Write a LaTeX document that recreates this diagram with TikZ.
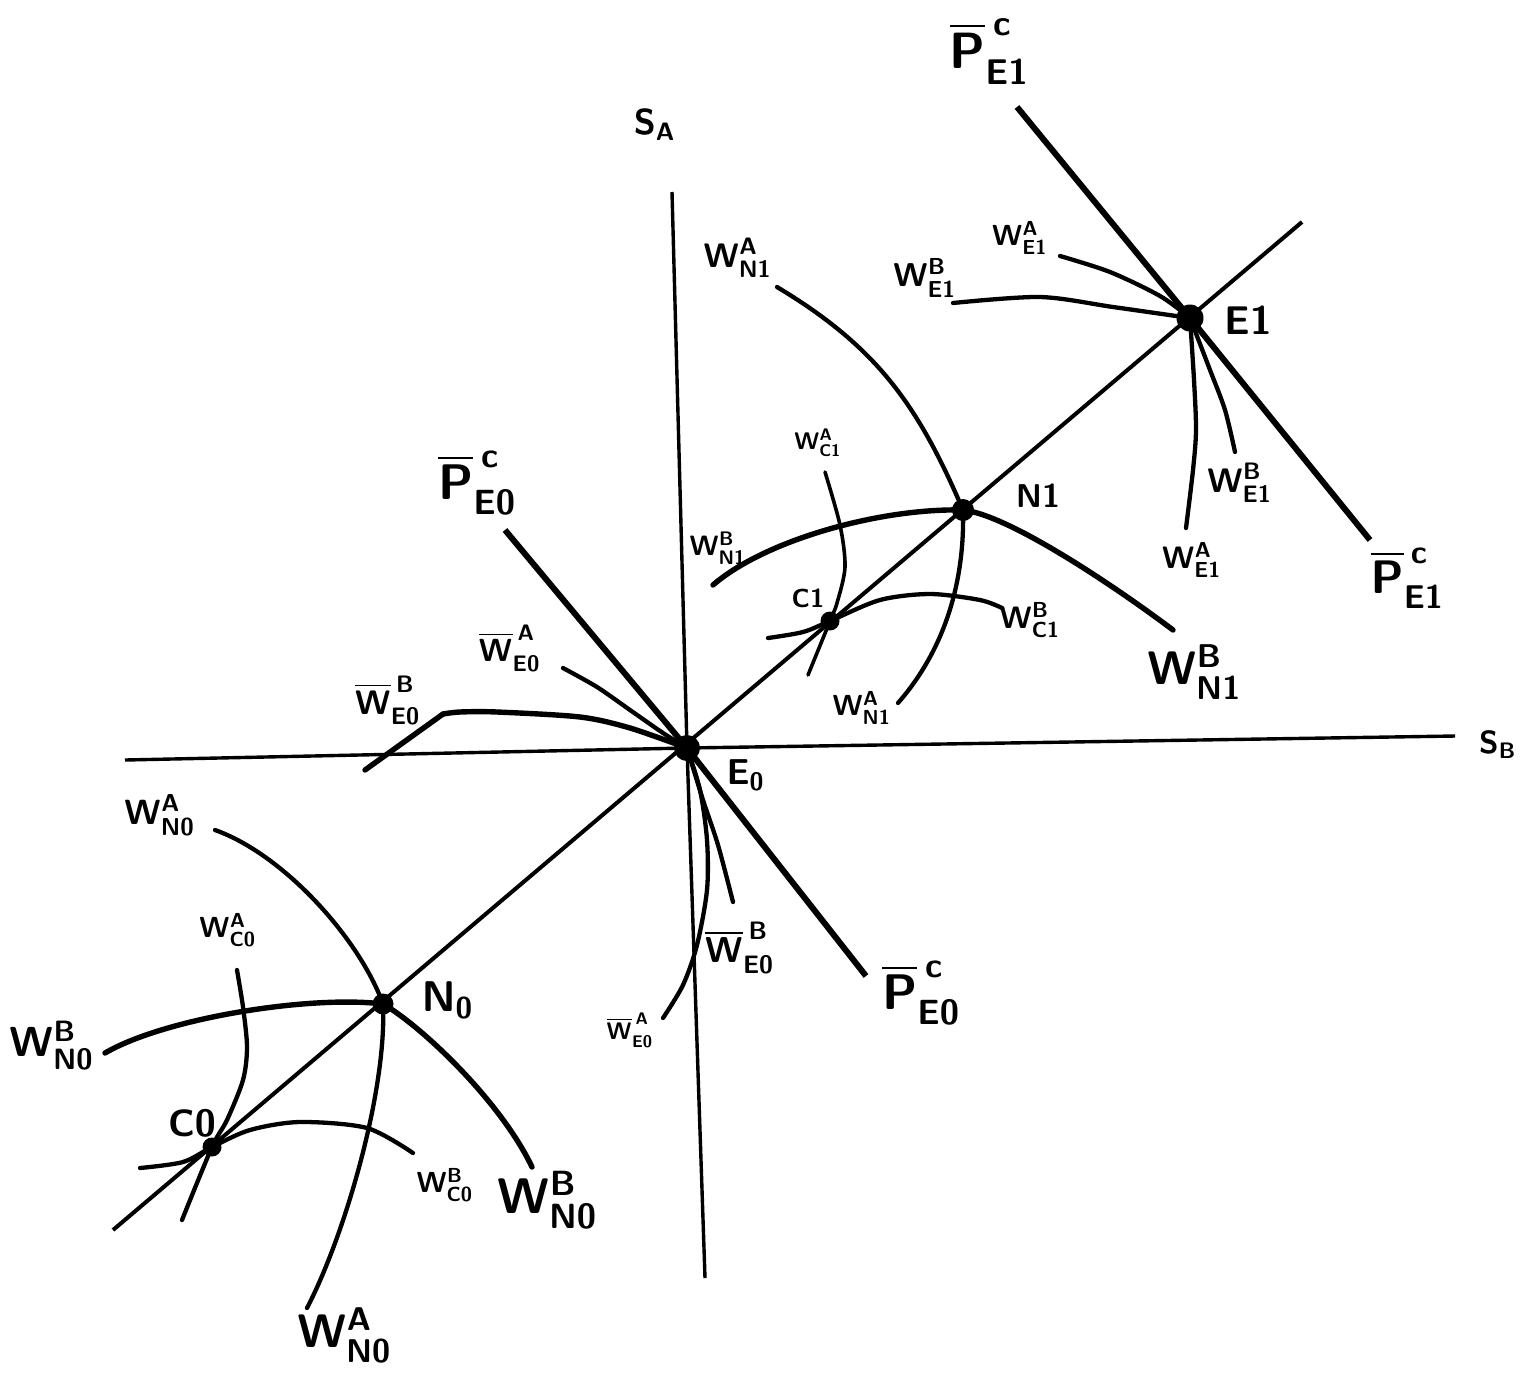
\documentclass[tikz,border=0pt]{standalone}
\newcommand\hwl[3]{$\mathsf{#1}^{\mathsf{#2}}_{\mathsf{#3}}$}
\newcommand\hwb[3]{$\overline{\mathsf{#1}}^{\,\mathsf{#2}}_{\mathsf{#3}}$}
\begin{document}
\begin{tikzpicture}[x=1pt,y=-1pt,
  axis/.style={line width=3.4pt},
  diag/.style={line width=4pt},
  pline/.style={line width=6pt},
  curve/.style={line width=4.3pt, line cap=round, line join=round},
  thickcurve/.style={line width=5.4pt, line cap=round, line join=round},
  thincurve/.style={line width=3.6pt, line cap=round, line join=round},
  dot/.style={circle, fill=black, inner sep=0pt, minimum size=#1},
  lab/.style={inner sep=0pt, scale=#1, font=\boldmath},
  lab/.default=3]
\useasboundingbox (0,0) rectangle (1530,1379);
\fill[white] (0,0) rectangle (1530,1379);
% key points
\coordinate (e0) at (687,748);
\coordinate (e1) at (1190,318);
\coordinate (n1) at (963,510);
\coordinate (c1) at (830,621);
\coordinate (n0) at (383,1004);
\coordinate (c0) at (212,1147);
% free ends of straight lines
\coordinate (saT) at (672,192);
\coordinate (saB) at (705,1278);
\coordinate (sbL) at (125,760);
\coordinate (sbR) at (1455,736);
\coordinate (dL) at (113,1230);
\coordinate (dR) at (1302,222);
\coordinate (p1T) at (1017,107);
\coordinate (p1B) at (1370,540);
\coordinate (p0T) at (505,530);
\coordinate (p0B) at (866,976);
% straight lines
\draw[axis] (saT) -- (e0) -- (saB);
\draw[axis] (sbL) -- (e0) -- (sbR);
\draw[diag] (dL) -- (dR);
\draw[pline] (p1T) -- (e1) -- (p1B);
\draw[pline] (p0T) -- (e0) -- (p0B);
% free ends of curves
\coordinate (wea1s) at (1060,256);
\coordinate (wea1e) at (1186,528);
\coordinate (web1s) at (953,303);
\coordinate (web1e) at (1235,452);
\coordinate (wna1s) at (777,287);
\coordinate (wna1e) at (898,703);
\coordinate (wnb1s) at (713,585);
\coordinate (wnb1e) at (1173,630);
\coordinate (wca1s) at (825,472);
\coordinate (wca1e) at (808,675);
\coordinate (wcb1s) at (768,638);
\coordinate (wcb1e) at (1002,608);
\coordinate (wna0s) at (215,830);
\coordinate (wna0e) at (307,1308);
\coordinate (wnb0s) at (105,1053);
\coordinate (wnb0e) at (532,1167);
\coordinate (wca0s) at (237,970);
\coordinate (wca0e) at (182,1220);
\coordinate (wcb0s) at (140,1168);
\coordinate (wcb0e) at (413,1153);
\coordinate (wea0s) at (563,668);
\coordinate (wea0e) at (663,1018);
\coordinate (web0s) at (365,770);
\coordinate (web0k) at (443,714);
\coordinate (web0e) at (733,902);
% curves through E1
\draw[curve] plot[smooth] coordinates {(wea1s) (1110,272) (1160,296) (e1)};
\draw[curve] plot[smooth] coordinates {(e1) (1194,380) (1196,430) (1193,470) (wea1e)};
\draw[curve] plot[smooth] coordinates {(web1s) (1040,297) (1113,307) (e1)};
\draw[curve] plot[smooth] coordinates {(e1) (1210,370) (1225,410) (web1e)};
% curves through N1, C1
\draw[curve] (wna1s) .. controls (877,347) and (918,405) .. (n1)
  .. controls (965,590) and (940,655) .. (wna1e);
\draw[thickcurve] (wnb1s) .. controls (765,540) and (880,508) .. (n1)
  .. controls (1010,515) and (1120,590) .. (wnb1e);
\draw[thincurve] plot[smooth] coordinates {(wca1s) (840,525) (845,567) (837,603) (c1) (wca1e)};
\draw[curve] plot[smooth] coordinates {(wcb1s) (803,632) (c1) (880,600) (930,594) (980,600) (wcb1e)};
% curves through N0, C0
\draw[curve] (wna0s) .. controls (285,855) and (360,940) .. (n0)
  .. controls (387,1090) and (345,1235) .. (wna0e);
\draw[thickcurve] (wnb0s) .. controls (165,1018) and (310,995) .. (n0)
  .. controls (420,1025) and (500,1100) .. (wnb0e);
\draw[curve] plot[smooth] coordinates {(wca0s) (243,1007) (247,1047) (243,1080) (227,1120) (c0) (wca0e)};
\draw[curve] plot[smooth] coordinates {(wcb0s) (183,1162) (c0) (250,1130) (300,1122) (367,1128) (wcb0e)};
% curves through E0
\draw[curve] plot[smooth] coordinates {(wea0s) (597,687) (630,710) (663,733) (e0)};
\draw[curve] plot[smooth] coordinates {(e0) (700,790) (707,840) (707,890) (697,945) (683,985) (wea0e)};
\draw[thickcurve] (web0s) -- (web0k);
\draw[thickcurve] plot[smooth] coordinates {(web0k) (460,712) (497,712) (580,717) (630,728) (e0)};
\draw[curve] plot[smooth] coordinates {(e0) (703,800) (718,845) (web0e)};
% dots
\node[dot=26pt] (E0) at (e0) {};
\node[dot=27pt] (E1) at (e1) {};
\node[dot=22pt] (N1) at (n1) {};
\node[dot=19pt] (C1) at (c1) {};
\node[dot=21pt] (N0) at (n0) {};
\node[dot=19pt] (C0) at (c0) {};
% labels
\node[lab=3.6] (lSA) at (655,125) {$\mathsf{S}_{\mathsf{A}}$};
\node[lab=3.2] (lSB) at (1498,745) {$\mathsf{S}_{\mathsf{B}}$};
\node[lab=5.1] (lP1T) at (990,52) {\hwb{P}{c}{E1}};
\node[lab=4.7] (lP1B) at (1408,578) {\hwb{P}{c}{E1}};
\node[lab=5] (lP0T) at (478,483) {\hwb{P}{c}{E0}};
\node[lab=5] (lP0B) at (922,993) {\hwb{P}{c}{E0}};
\node[lab=4] (lE1) at (1248,321) {$\mathsf{E1}$};
\node[lab=3.3] (lN1) at (1038,496) {$\mathsf{N1}$};
\node[lab=2.6] (lC1) at (808,598) {$\mathsf{C1}$};
\node[lab=3.6] (lE0) at (746,775) {$\mathsf{E}_{\mathsf{0}}$};
\node[lab=4.3] (lN0) at (448,1000) {$\mathsf{N}_{\mathsf{0}}$};
\node[lab=3.8] (lC0) at (192,1123) {$\mathsf{C0}$};
\node[lab=2.9] (lWEA1) at (1020,238) {\hwl{W}{A}{E1}};
\node[lab=3.3] (lWEB1) at (925,278) {\hwl{W}{B}{E1}};
\node[lab=3.4] (lWEB1b) at (1240,483) {\hwl{W}{B}{E1}};
\node[lab=3.1] (lWEA1b) at (1192,560) {\hwl{W}{A}{E1}};
\node[lab=4.7] (lWNB1b) at (1195,672) {\hwl{W}{B}{N1}};
\node[lab=3.4] (lWNA1) at (738,258) {\hwl{W}{A}{N1}};
\node[lab=2.4] (lWCA1) at (818,443) {\hwl{W}{A}{C1}};
\node[lab=2.8] (lWNB1) at (718,548) {\hwl{W}{B}{N1}};
\node[lab=3.1] (lWCB1) at (1030,620) {\hwl{W}{B}{C1}};
\node[lab=2.9] (lWNA1b) at (862,708) {\hwl{W}{A}{N1}};
\node[lab=3.2] (lWEA0) at (510,648) {\hwb{W}{A}{E0}};
\node[lab=3.4] (lWEB0) at (388,700) {\hwb{W}{B}{E0}};
\node[lab=3.6] (lWEB0b) at (740,948) {\hwb{W}{B}{E0}};
\node[lab=2.4] (lWEA0b) at (630,1030) {\hwb{W}{A}{E0}};
\node[lab=3.5] (lWNA0) at (160,815) {\hwl{W}{A}{N0}};
\node[lab=2.9] (lWCA0) at (228,930) {\hwl{W}{A}{C0}};
\node[lab=4.2] (lWNB0) at (52,1045) {\hwl{W}{B}{N0}};
\node[lab=2.9] (lWCB0) at (445,1185) {\hwl{W}{B}{C0}};
\node[lab=5] (lWNB0b) at (548,1200) {\hwl{W}{B}{N0}};
\node[lab=4.7] (lWNA0b) at (345,1335) {\hwl{W}{A}{N0}};
\end{tikzpicture}
\end{document}
